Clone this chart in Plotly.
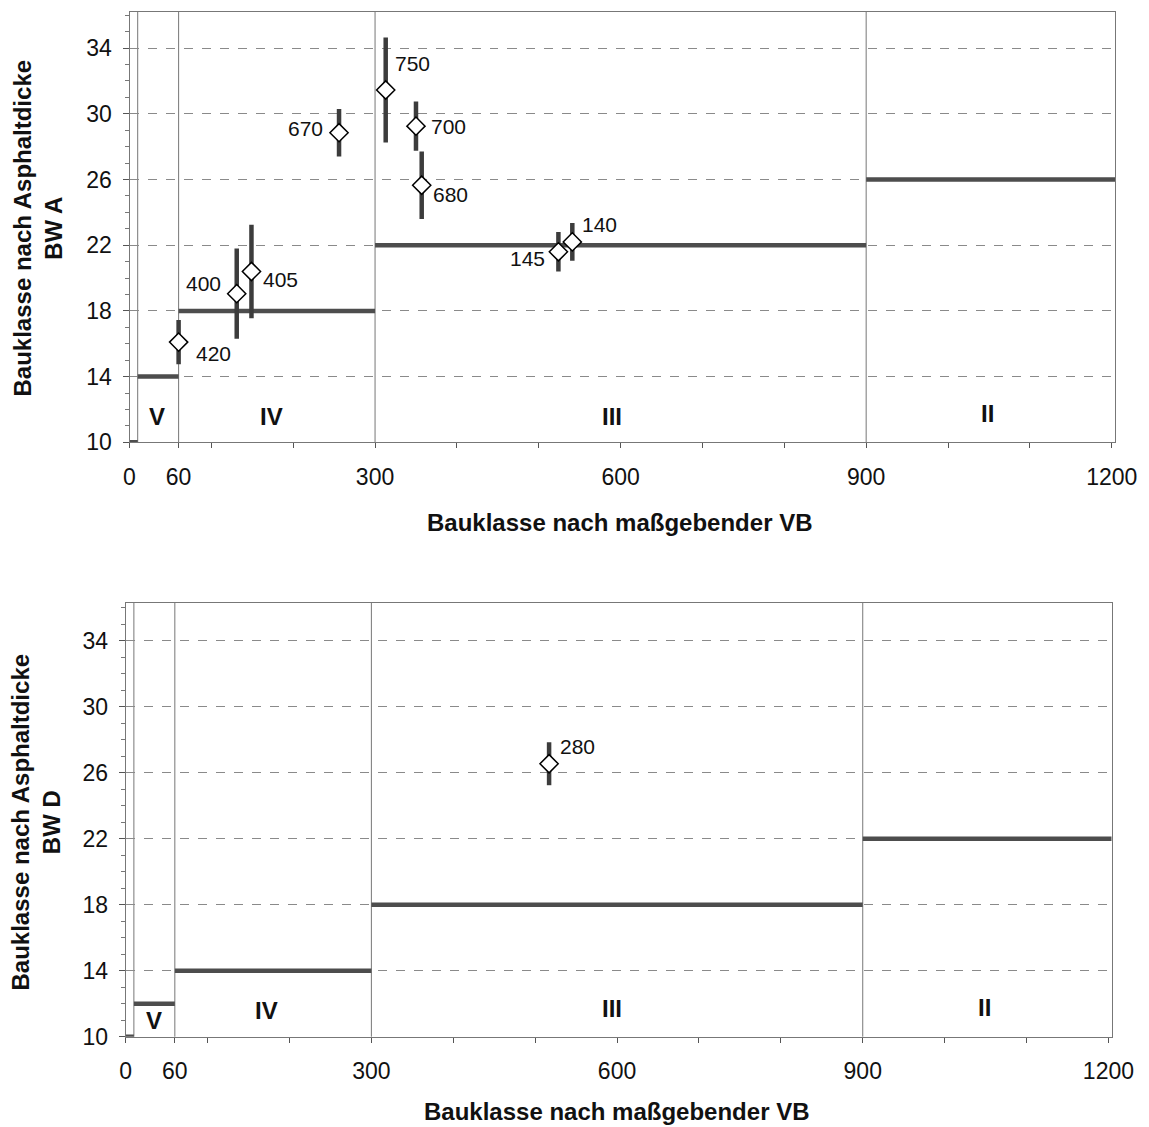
import plotly.graph_objects as go

# ---------------- data ----------------
# class boundaries (maßgebende VB) and step values (Bauklasse nach Asphaltdicke)
bounds = [0, 10, 60, 300, 900, 1204]
steps_A = [10, 14, 18, 22, 26]
steps_D = [10, 12, 14, 18, 22]

# measured points, chart BW A
pts_A_x = [60, 131, 149, 256, 313, 350, 357, 524, 541]
pts_A_y = [16.1, 19.05, 20.4, 28.85, 31.45, 29.25, 25.65, 21.6, 22.2]
pts_A_err = [1.35, 2.75, 2.85, 1.45, 3.2, 1.5, 2.05, 1.2, 1.15]
pts_A_lab = ["420", "400", "405", "670", "750", "700", "680", "145", "140"]

# measured points, chart BW D
pts_D_x = [517]
pts_D_y = [26.55]
pts_D_err = [1.3]
pts_D_lab = ["280"]

region_names = ["V", "IV", "III", "II"]
x_tickvals = [0, 60, 100, 200, 300, 400, 500, 600, 700, 800, 900, 1000, 1100, 1200]
x_ticktext = ["0", "60", "", "", "300", "", "", "600", "", "", "900", "", "", "1200"]
y_tickvals = [10, 14, 18, 22, 26, 30, 34]

# ---------------- styling / layout helpers ----------------
W, H = 1149, 1127
OFF = 8  # page body margin in the browser


def px_x(p):
    return (p - OFF) / W


def px_y(p):
    return 1 - (p - OFF) / H


lab_off_A = [(35, -11), (-33, 10), (29, -8), (-34, 4), (27, 27), (33, 0), (29, -9), (-31, -7), (27, 17)]
lab_off_D = [(28, 17)]
region_pos_A = [(33, 11.55), (174, 11.55), (590, 11.6), (1048, 11.75)]
region_pos_D = [(34, 11.0), (172, 11.6), (594, 11.7), (1049, 11.8)]

FONT = "Liberation Sans, Arial, sans-serif"
STEP_COL = "#4d4d4d"
ERR_COL = "#3c3c3c"
GRID_COL = "#8a8a8a"

fig = go.Figure()


def add_chart(xa, ya, steps, px, py, perr, plab, offs, regpos):
    # step lines
    for i, v in enumerate(steps):
        fig.add_trace(go.Scatter(
            x=[bounds[i], bounds[i + 1]], y=[v, v], mode="lines",
            line=dict(color=STEP_COL, width=4.5), xaxis=xa, yaxis=ya,
            showlegend=False, hoverinfo="skip"))
    # points with error bars
    fig.add_trace(go.Scatter(
        x=px, y=py, mode="markers", xaxis=xa, yaxis=ya, showlegend=False,
        marker=dict(symbol="diamond", size=14, color="white",
                    line=dict(color="black", width=1.5)),
        error_y=dict(type="data", array=perr, visible=True, color=ERR_COL,
                     thickness=4.5, width=0),
        cliponaxis=False))
    for x, y, t, (dx, dy) in zip(px, py, plab, offs):
        fig.add_annotation(x=x, y=y, xref=xa, yref=ya, text=t, showarrow=False,
                           xshift=dx, yshift=dy,
                           font=dict(family=FONT, size=21, color="#111"))
    for name, (x, y) in zip(region_names, regpos):
        fig.add_annotation(x=x, y=y, xref=xa, yref=ya, text="<b>%s</b>" % name,
                           showarrow=False,
                           font=dict(family=FONT, size=24, color="#111"))
    # class boundary lines
    for b in bounds[1:-1]:
        fig.add_shape(type="line", x0=b, x1=b, y0=0, y1=1, xref=xa,
                      yref=ya + " domain", line=dict(color="#777", width=1),
                      layer="below")


add_chart("x", "y", steps_A, pts_A_x, pts_A_y, pts_A_err, pts_A_lab, lab_off_A, region_pos_A)
add_chart("x2", "y2", steps_D, pts_D_x, pts_D_y, pts_D_err, pts_D_lab, lab_off_D, region_pos_D)

xax = dict(range=[0, 1204], tickmode="array", tickvals=x_tickvals, ticktext=x_ticktext,
           ticks="outside", ticklen=5, tickcolor="#555", showgrid=False, zeroline=False,
           showline=True, linecolor="#777", linewidth=1, mirror=True, automargin=False,
           tickfont=dict(family=FONT, size=23, color="#111"), ticklabelstandoff=9)
yax = dict(tickmode="array", tickvals=y_tickvals, ticks="outside", ticklen=6, tickcolor="#555",
           minor=dict(dtick=1, tick0=10, ticks="outside", ticklen=4, tickcolor="#777", showgrid=False),
           showgrid=True, gridcolor=GRID_COL, griddash="dash", gridwidth=1, zeroline=False,
           showline=True, linecolor="#777", linewidth=1, mirror=True, automargin=False,
           tickfont=dict(family=FONT, size=23, color="#111"), ticklabelstandoff=6)

fig.update_layout(
    width=W, height=H, margin=dict(l=0, r=0, t=0, b=0, autoexpand=False),
    paper_bgcolor="white", plot_bgcolor="white", showlegend=False,
    xaxis=dict(xax, domain=[px_x(129.5), px_x(1115)], anchor="y"),
    yaxis=dict(yax, domain=[px_y(442.3), px_y(12)], range=[10, 36.2], anchor="x"),
    xaxis2=dict(xax, domain=[px_x(125.7), px_x(1111.7)], anchor="y2"),
    yaxis2=dict(yax, domain=[px_y(1036.7), px_y(603)], range=[10, 36.3], anchor="x2"),
)

title_font = dict(family=FONT, size=24, color="#111")
fig.add_annotation(x=px_x(619), y=px_y(522), xref="paper", yref="paper", showarrow=False,
                   text="<b>Bauklasse nach maßgebender VB</b>", font=title_font,
                   xanchor="center", yanchor="middle")
fig.add_annotation(x=px_x(616.7), y=px_y(1111), xref="paper", yref="paper", showarrow=False,
                   text="<b>Bauklasse nach maßgebender VB</b>", font=title_font,
                   xanchor="center", yanchor="middle")
fig.add_annotation(x=px_x(37.5), y=px_y(228), xref="paper", yref="paper", showarrow=False,
                   text="<b>Bauklasse nach Asphaltdicke<br>BW A</b>", font=title_font,
                   textangle=-90, xanchor="center", yanchor="middle")
fig.add_annotation(x=px_x(35), y=px_y(822.5), xref="paper", yref="paper", showarrow=False,
                   text="<b>Bauklasse nach Asphaltdicke<br>BW D</b>", font=title_font,
                   textangle=-90, xanchor="center", yanchor="middle")

fig.write_html("out.html")
